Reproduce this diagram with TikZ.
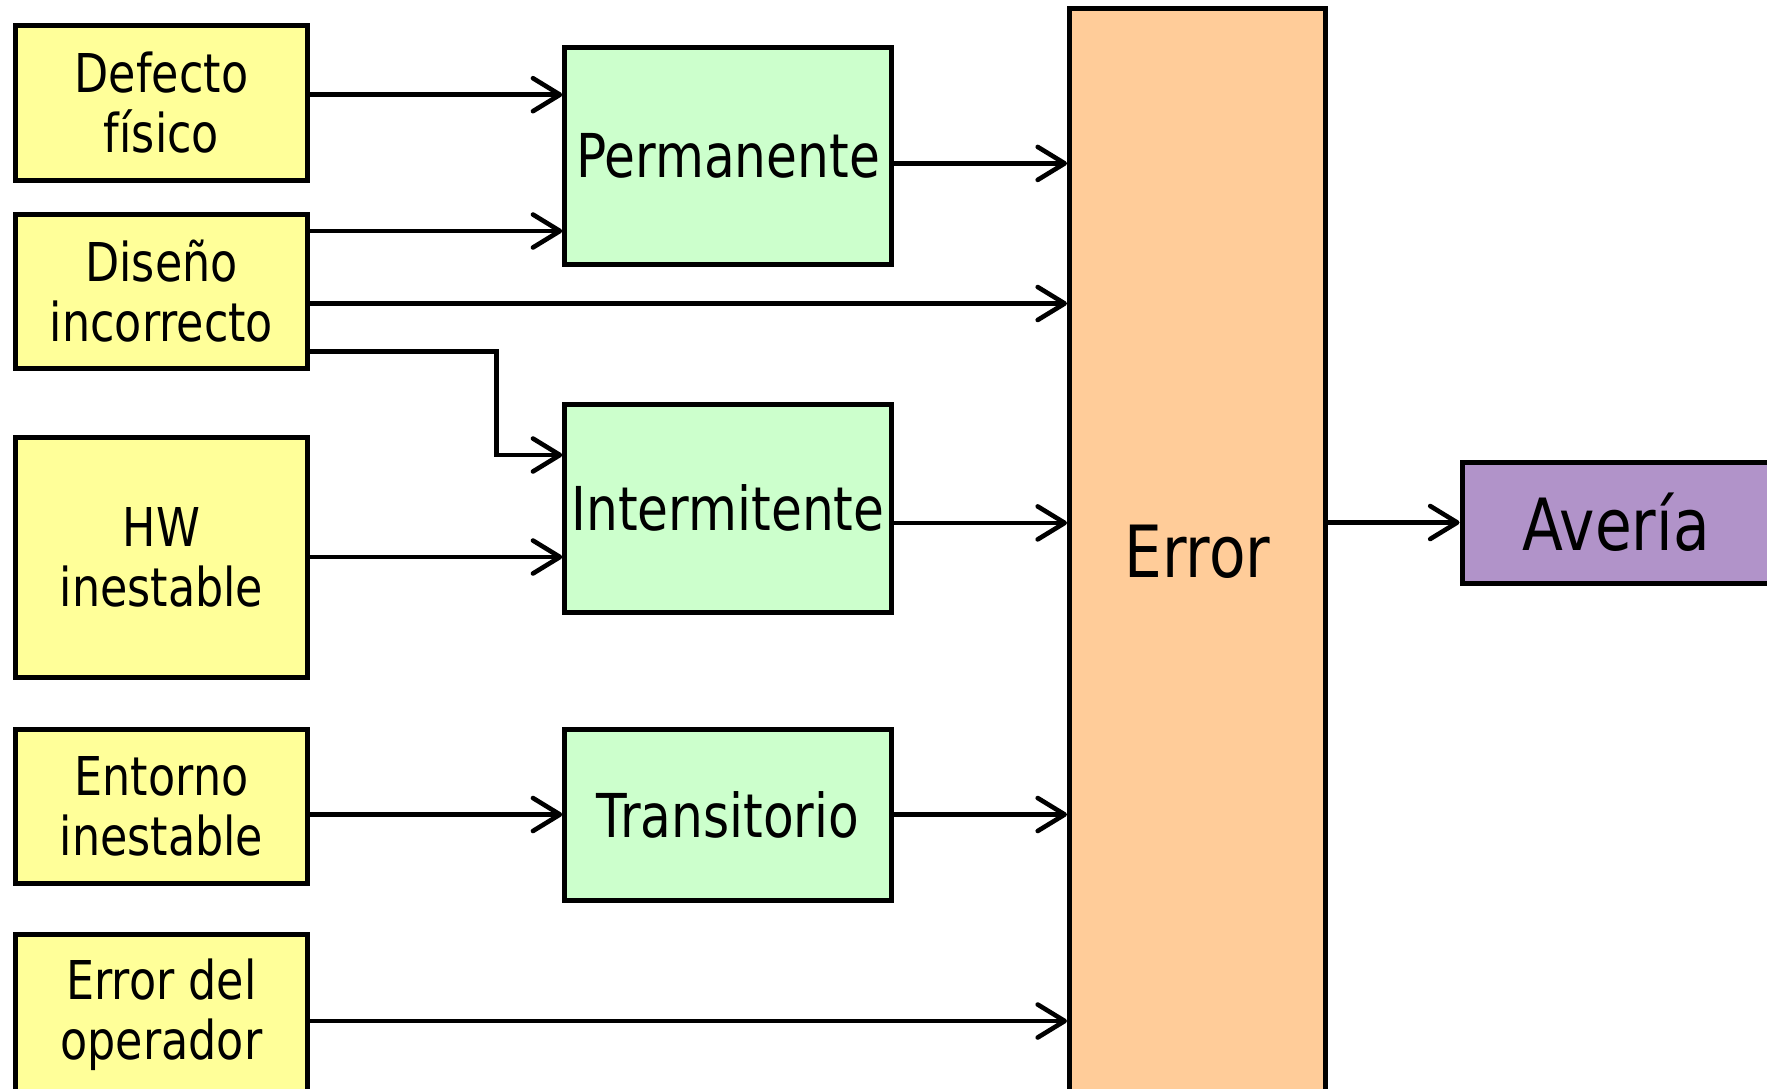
\documentclass[tikz,border=0pt]{standalone}
\usepackage{fontspec}
\setmainfont{DejaVu Sans}[FakeStretch=0.83]
\usetikzlibrary{arrows.meta}
\definecolor{causefill}{HTML}{FFFF99}
\definecolor{faultfill}{HTML}{CCFFCC}
\definecolor{errorfill}{HTML}{FFCC99}
\definecolor{failfill}{HTML}{B193C9}
\tikzset{
  box/.style={draw=black, line width=5pt, inner sep=0pt, align=center, text=black},
  cause/.style={box, fill=causefill, minimum width=292pt, font=\fontsize{53.5}{60}\selectfont},
  fault/.style={box, fill=faultfill, minimum width=326.5pt, font=\fontsize{60.5}{68}\selectfont},
  arr/.style={line width=4.6pt, -{Straight Barb[length=27pt,width=33pt,round]}},
}
\begin{document}
\begin{tikzpicture}[x=1pt, y=-1pt]
\useasboundingbox (0,0) rectangle (1767,1088);
\clip (0,0) rectangle (1767,1088);
\fill[white] (0,0) rectangle (1767,1088);

% causes
\node[cause, minimum height=155.5pt] (def) at (161.5,102.75) {Defecto\\físico};
\node[cause, minimum height=154pt] (dis) at (161.5,291) {Diseño\\incorrecto};
\node[cause, minimum height=240pt] (hw) at (161.5,557) {HW\\inestable};
\node[cause, minimum height=154.5pt] (ent) at (161.5,806.25) {Entorno\\inestable};
\node[cause, minimum height=161pt] (op) at (161.5,1014.5) {Error del\\operador};

% fault kinds
\node[fault, minimum height=217pt] (perm) at (728,155.5) {Permanente};
\node[fault, minimum height=207.5pt] (inter) at (728,508.3) {Intermitente};
\node[fault, minimum height=171pt] (trans) at (728,814.5) {Transitorio};

% error and failure
\node[box, fill=errorfill, minimum width=256pt, minimum height=1088pt,
      font=\fontsize{72}{80}\selectfont] (err) at (1197.5,552) {Error};
\node[box, fill=failfill, minimum width=308pt, minimum height=121pt,
      font=\fontsize{72}{80}\selectfont] (ave) at (1616,522.5) {Avería};

% row levels of the connectors
\coordinate (r1) at (0,94.7);
\coordinate (r2) at (0,231);
\coordinate (r3) at (0,303.5);
\coordinate (r4) at (0,351.7);
\coordinate (r5) at (0,455);
\coordinate (r6) at (0,163.4);
\coordinate (r7) at (0,522.9);
\coordinate (r8) at (0,1021);
\coordinate (bend) at (496.5,0);

% connectors
\draw[arr] (def.east |- r1) -- (perm.west |- r1);
\draw[arr] (dis.east |- r2) -- (perm.west |- r2);
\draw[arr] (dis.east |- r3) -- (err.west |- r3);
\draw[arr] (dis.east |- r4) -- (bend |- r4) -- (bend |- r5) -- (inter.west |- r5);
\draw[arr] (hw.east) -- (hw.east -| inter.west);
\draw[arr] (perm.east |- r6) -- (err.west |- r6);
\draw[arr] (inter.east |- r7) -- (err.west |- r7);
\draw[arr] (ent.east |- trans.west) -- (trans.west);
\draw[arr] (trans.east) -- (trans.east -| err.west);
\draw[arr] (op.east |- r8) -- (err.west |- r8);
\draw[arr] (err.east |- ave.west) -- (ave.west);
\end{tikzpicture}
\end{document}
